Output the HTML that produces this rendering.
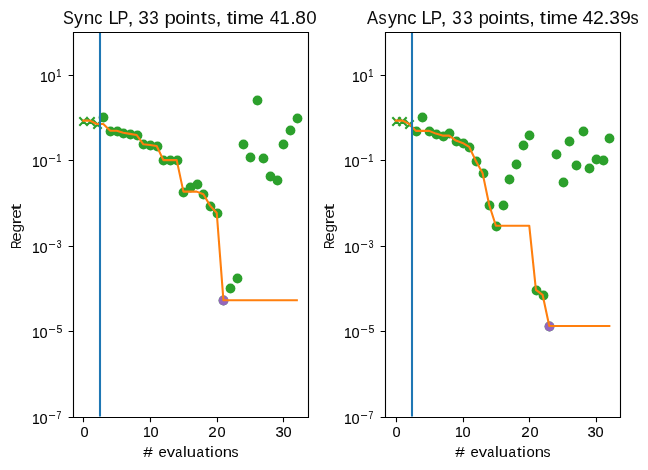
<!DOCTYPE html>
<html><head><meta charset="utf-8"><style>html,body{margin:0;padding:0;background:#fff;overflow:hidden}svg{display:block}</style></head>
<body><svg width="648" height="470" viewBox="0 0 648 470">
<rect width="648" height="470" fill="#fff"/>
<clipPath id="clipL"><rect x="72.633" y="32.333" width="234.867" height="384.389"/></clipPath>
<g clip-path="url(#clipL)">
<circle cx="103.5" cy="117.5" r="4.92" fill="#2ca02c"/>
<circle cx="110.5" cy="131.5" r="4.92" fill="#2ca02c"/>
<circle cx="117.5" cy="131.5" r="4.92" fill="#2ca02c"/>
<circle cx="123.5" cy="133.5" r="4.92" fill="#2ca02c"/>
<circle cx="130.5" cy="134.5" r="4.92" fill="#2ca02c"/>
<circle cx="137.5" cy="135.5" r="4.92" fill="#2ca02c"/>
<circle cx="143.5" cy="144.5" r="4.92" fill="#2ca02c"/>
<circle cx="150.5" cy="145.5" r="4.92" fill="#2ca02c"/>
<circle cx="157.5" cy="146.5" r="4.92" fill="#2ca02c"/>
<circle cx="163.5" cy="160.5" r="4.92" fill="#2ca02c"/>
<circle cx="170.5" cy="160.5" r="4.92" fill="#2ca02c"/>
<circle cx="177.5" cy="160.5" r="4.92" fill="#2ca02c"/>
<circle cx="183.5" cy="192.5" r="4.92" fill="#2ca02c"/>
<circle cx="190.5" cy="187.5" r="4.92" fill="#2ca02c"/>
<circle cx="197.5" cy="184.5" r="4.92" fill="#2ca02c"/>
<circle cx="203.5" cy="194.5" r="4.92" fill="#2ca02c"/>
<circle cx="210.5" cy="206.5" r="4.92" fill="#2ca02c"/>
<circle cx="217.5" cy="213.5" r="4.92" fill="#2ca02c"/>
<circle cx="223.5" cy="300.5" r="4.92" fill="#2ca02c"/>
<circle cx="230.5" cy="288.5" r="4.92" fill="#2ca02c"/>
<circle cx="237.5" cy="278.5" r="4.92" fill="#2ca02c"/>
<circle cx="243.5" cy="144.5" r="4.92" fill="#2ca02c"/>
<circle cx="250.5" cy="157.5" r="4.92" fill="#2ca02c"/>
<circle cx="257.5" cy="100.5" r="4.92" fill="#2ca02c"/>
<circle cx="263.5" cy="158.5" r="4.92" fill="#2ca02c"/>
<circle cx="270.5" cy="176.5" r="4.92" fill="#2ca02c"/>
<circle cx="277.5" cy="180.5" r="4.92" fill="#2ca02c"/>
<circle cx="283.5" cy="144.5" r="4.92" fill="#2ca02c"/>
<circle cx="290.5" cy="130.5" r="4.92" fill="#2ca02c"/>
<circle cx="297.5" cy="118.5" r="4.92" fill="#2ca02c"/>
<circle cx="223.5" cy="300.5" r="4.92" fill="#9467bd"/>
<path d="M79.333,125.667L87.667,117.333M79.333,117.333L87.667,125.667M86.333,125.667L94.667,117.333M86.333,117.333L94.667,125.667M93.333,128.667L101.667,120.333M93.333,120.333L101.667,128.667" stroke="#2ca02c" stroke-width="2.083" fill="none" stroke-linecap="butt"/>
<polyline points="83.309,120.600 89.981,120.600 96.654,124.000 103.326,124.000 109.999,130.600 116.671,130.700 123.343,132.800 130.016,133.900 136.688,135.000 143.361,144.300 150.033,145.000 156.705,146.000 163.378,160.100 170.050,160.100 176.723,160.100 183.395,191.600 190.068,191.600 196.740,191.600 203.412,194.200 210.085,205.600 216.757,213.000 223.430,300.300 230.102,300.300 236.775,300.300 243.447,300.300 250.119,300.300 256.792,300.300 263.464,300.300 270.137,300.300 276.809,300.300 283.482,300.300 290.154,300.300 296.826,300.300" stroke="#ff7f0e" stroke-width="2.083" fill="none" stroke-linejoin="round" stroke-linecap="square"/>
<rect x="98.9585" y="32.333" width="2.083" height="384.389" fill="#1f77b4"/>
</g>
<path d="M73.5,417.5V32.5H308.5V417.5Z" stroke="#000" stroke-width="1.111" fill="none" stroke-linecap="square" stroke-linejoin="miter"/>
<path d="M83.5,417.5V422.36M150.5,417.5V422.36M217.5,417.5V422.36M283.5,417.5V422.36M73.5,75.5H68.64M73.5,160.5H68.64M73.5,246.5H68.64M73.5,331.5H68.64M73.5,417.5H68.64" stroke="#000" stroke-width="1.111" fill="none"/>
<g font-family="Liberation Sans, sans-serif" fill="#000" style="filter:grayscale(1)">
<text transform="translate(63.047,23.979) scale(0.8500,1)" font-size="19.149" fill="#0a0a0a">S</text>
<text transform="translate(74.000,23.979) scale(0.9400,1)" font-size="19.149" fill="#0a0a0a">y</text>
<text transform="translate(83.667,23.979) scale(0.9947,1)" font-size="19.149" fill="#0a0a0a">n</text>
<text transform="translate(94.349,23.979) scale(0.8501,1)" font-size="19.149" fill="#0a0a0a">c</text>
<text transform="translate(108.545,23.979) scale(0.9495,1)" font-size="19.149" fill="#0a0a0a">L</text>
<text transform="translate(117.385,23.979) scale(0.8500,1)" font-size="19.149" fill="#0a0a0a">P</text>
<text transform="translate(127.417,23.979) scale(1.1500,1)" font-size="19.149" fill="#0a0a0a">,</text>
<text transform="translate(138.234,23.979) scale(1.0000,1)" font-size="19.149" fill="#0a0a0a">3</text>
<text transform="translate(149.319,23.979) scale(0.8889,1)" font-size="19.149" fill="#0a0a0a">3</text>
<text transform="translate(164.568,23.979) scale(1.0682,1)" font-size="19.149" fill="#0a0a0a">p</text>
<text transform="translate(175.234,23.979) scale(1.0000,1)" font-size="19.149" fill="#0a0a0a">o</text>
<text transform="translate(185.578,23.979) scale(1.1500,1)" font-size="19.149" fill="#0a0a0a">i</text>
<text transform="translate(189.667,23.979) scale(0.9947,1)" font-size="19.149" fill="#0a0a0a">n</text>
<text transform="translate(200.807,23.979) scale(1.1500,1)" font-size="19.149" fill="#0a0a0a">t</text>
<text transform="translate(207.512,23.979) scale(0.8501,1)" font-size="19.149" fill="#0a0a0a">s</text>
<text transform="translate(215.417,23.979) scale(1.1500,1)" font-size="19.149" fill="#0a0a0a">,</text>
<text transform="translate(226.807,23.979) scale(1.1500,1)" font-size="19.149" fill="#0a0a0a">t</text>
<text transform="translate(232.578,23.979) scale(1.1500,1)" font-size="19.149" fill="#0a0a0a">i</text>
<text transform="translate(237.600,23.979) scale(1.0444,1)" font-size="19.149" fill="#0a0a0a">m</text>
<text transform="translate(253.234,23.979) scale(1.0000,1)" font-size="19.149" fill="#0a0a0a">e</text>
<text transform="translate(269.647,23.979) scale(0.9216,1)" font-size="19.149" fill="#0a0a0a">4</text>
<text transform="translate(279.512,23.979) scale(0.9716,1)" font-size="19.149" fill="#0a0a0a">1</text>
<text transform="translate(290.200,23.979) scale(1.0444,1)" font-size="19.149" fill="#0a0a0a">.</text>
<text transform="translate(295.234,23.979) scale(1.0000,1)" font-size="19.149" fill="#0a0a0a">8</text>
<text transform="translate(306.250,23.979) scale(0.9792,1)" font-size="19.149" fill="#0a0a0a">0</text>
<text transform="translate(143.299,456.851) scale(1.1500,1)" font-size="14.865">#</text>
<text transform="translate(158.404,456.851) scale(1.0019,1)" font-size="14.865">e</text>
<text transform="translate(166.833,456.851) scale(1.1212,1)" font-size="14.865">v</text>
<text transform="translate(175.209,456.851) scale(0.8500,1)" font-size="14.865">a</text>
<text transform="translate(183.034,456.851) scale(1.1500,1)" font-size="14.865">l</text>
<text transform="translate(186.833,456.851) scale(1.1212,1)" font-size="14.865">u</text>
<text transform="translate(196.462,456.851) scale(0.9056,1)" font-size="14.865">a</text>
<text transform="translate(205.021,456.851) scale(1.1500,1)" font-size="14.865">t</text>
<text transform="translate(210.120,456.851) scale(1.1500,1)" font-size="14.865">i</text>
<text transform="translate(214.404,456.851) scale(1.0019,1)" font-size="14.865">o</text>
<text transform="translate(222.833,456.851) scale(1.1212,1)" font-size="14.865">n</text>
<text transform="translate(231.581,456.851) scale(0.9387,1)" font-size="14.865">s</text>
<text transform="translate(20.967,248.949) rotate(-90) scale(0.8214,1)" font-size="14.444" fill="#111">R</text>
<text transform="translate(20.967,241.681) rotate(-90) scale(1.1784,1)" font-size="14.444" fill="#111">e</text>
<text transform="translate(20.967,232.622) rotate(-90) scale(1.0769,1)" font-size="14.444" fill="#111">g</text>
<text transform="translate(20.967,224.400) rotate(-90) scale(1.3846,1)" font-size="14.444" fill="#111">r</text>
<text transform="translate(20.967,218.681) rotate(-90) scale(1.1784,1)" font-size="14.444" fill="#111">e</text>
<text transform="translate(20.967,210.480) rotate(-90) scale(1.6615,1)" font-size="14.444" fill="#111">t</text>
<text transform="translate(80.417,436.859) scale(1.0354,1)" font-size="14.085" stroke="#000" stroke-width="0.1">0</text>
<text transform="translate(142.884,436.859) scale(0.9907,1)" font-size="14.085" stroke="#000" stroke-width="0.1">1</text>
<text transform="translate(150.417,436.859) scale(1.0354,1)" font-size="14.085" stroke="#000" stroke-width="0.1">0</text>
<text transform="translate(208.239,436.859) scale(1.0804,1)" font-size="14.085" stroke="#000" stroke-width="0.1">2</text>
<text transform="translate(217.417,436.859) scale(1.0354,1)" font-size="14.085" stroke="#000" stroke-width="0.1">0</text>
<text transform="translate(275.404,436.859) scale(1.0574,1)" font-size="14.085" stroke="#000" stroke-width="0.1">3</text>
<text transform="translate(283.417,436.859) scale(1.0354,1)" font-size="14.085" stroke="#000" stroke-width="0.1">0</text>
<text transform="translate(39.884,81.859) scale(0.9907,1)" font-size="14.085" stroke="#000" stroke-width="0.1">1</text>
<text transform="translate(47.417,81.859) scale(1.0354,1)" font-size="14.085" stroke="#000" stroke-width="0.1">0</text>
<text transform="translate(56.256,77.000) scale(0.8023,1)" font-size="11.594" stroke="#000" stroke-width="0.1">1</text>
<text transform="translate(31.884,166.859) scale(0.9907,1)" font-size="14.085" stroke="#000" stroke-width="0.1">1</text>
<text transform="translate(39.417,166.859) scale(1.0354,1)" font-size="14.085" stroke="#000" stroke-width="0.1">0</text>
<rect x="49" y="158.08" width="6.1" height="0.84"/>
<text transform="translate(56.256,162.000) scale(0.8023,1)" font-size="11.594" stroke="#000" stroke-width="0.1">1</text>
<text transform="translate(31.884,252.859) scale(0.9907,1)" font-size="14.085" stroke="#000" stroke-width="0.1">1</text>
<text transform="translate(39.417,252.859) scale(1.0354,1)" font-size="14.085" stroke="#000" stroke-width="0.1">0</text>
<rect x="49" y="244.08" width="6.1" height="0.84"/>
<text transform="translate(56.660,247.887) scale(0.7553,1)" font-size="11.268" stroke="#000" stroke-width="0.1">3</text>
<text transform="translate(31.884,337.859) scale(0.9907,1)" font-size="14.085" stroke="#000" stroke-width="0.1">1</text>
<text transform="translate(39.417,337.859) scale(1.0354,1)" font-size="14.085" stroke="#000" stroke-width="0.1">0</text>
<rect x="49" y="329.08" width="6.1" height="0.84"/>
<text transform="translate(56.574,332.886) scale(0.9309,1)" font-size="11.429" stroke="#000" stroke-width="0.1">5</text>
<text transform="translate(31.884,423.859) scale(0.9907,1)" font-size="14.085" stroke="#000" stroke-width="0.1">1</text>
<text transform="translate(39.417,423.859) scale(1.0354,1)" font-size="14.085" stroke="#000" stroke-width="0.1">0</text>
<rect x="49" y="415.08" width="6.1" height="0.84"/>
<text transform="translate(56.565,419.118) scale(0.7391,1)" font-size="11.765" stroke="#000" stroke-width="0.1">7</text>
</g>
<clipPath id="clipR"><rect x="385.133" y="32.333" width="234.867" height="384.389"/></clipPath>
<g clip-path="url(#clipR)">
<circle cx="416.5" cy="131.5" r="4.92" fill="#2ca02c"/>
<circle cx="422.5" cy="117.5" r="4.92" fill="#2ca02c"/>
<circle cx="429.5" cy="131.5" r="4.92" fill="#2ca02c"/>
<circle cx="436.5" cy="134.5" r="4.92" fill="#2ca02c"/>
<circle cx="443.5" cy="136.5" r="4.92" fill="#2ca02c"/>
<circle cx="449.5" cy="133.5" r="4.92" fill="#2ca02c"/>
<circle cx="456.5" cy="141.5" r="4.92" fill="#2ca02c"/>
<circle cx="463.5" cy="143.5" r="4.92" fill="#2ca02c"/>
<circle cx="469.5" cy="147.5" r="4.92" fill="#2ca02c"/>
<circle cx="476.5" cy="161.5" r="4.92" fill="#2ca02c"/>
<circle cx="483.5" cy="173.5" r="4.92" fill="#2ca02c"/>
<circle cx="489.5" cy="205.5" r="4.92" fill="#2ca02c"/>
<circle cx="496.5" cy="226.5" r="4.92" fill="#2ca02c"/>
<circle cx="503.5" cy="205.5" r="4.92" fill="#2ca02c"/>
<circle cx="509.5" cy="179.5" r="4.92" fill="#2ca02c"/>
<circle cx="516.5" cy="164.5" r="4.92" fill="#2ca02c"/>
<circle cx="523.5" cy="145.5" r="4.92" fill="#2ca02c"/>
<circle cx="529.5" cy="135.5" r="4.92" fill="#2ca02c"/>
<circle cx="536.5" cy="290.5" r="4.92" fill="#2ca02c"/>
<circle cx="543.5" cy="295.5" r="4.92" fill="#2ca02c"/>
<circle cx="549.5" cy="326.5" r="4.92" fill="#2ca02c"/>
<circle cx="556.5" cy="154.5" r="4.92" fill="#2ca02c"/>
<circle cx="563.5" cy="182.5" r="4.92" fill="#2ca02c"/>
<circle cx="569.5" cy="141.5" r="4.92" fill="#2ca02c"/>
<circle cx="576.5" cy="165.5" r="4.92" fill="#2ca02c"/>
<circle cx="583.5" cy="131.5" r="4.92" fill="#2ca02c"/>
<circle cx="589.5" cy="168.5" r="4.92" fill="#2ca02c"/>
<circle cx="596.5" cy="159.5" r="4.92" fill="#2ca02c"/>
<circle cx="603.5" cy="160.5" r="4.92" fill="#2ca02c"/>
<circle cx="609.5" cy="138.5" r="4.92" fill="#2ca02c"/>
<circle cx="549.5" cy="326.5" r="4.92" fill="#9467bd"/>
<path d="M392.333,125.667L400.667,117.333M392.333,117.333L400.667,125.667M398.333,125.667L406.667,117.333M398.333,117.333L406.667,125.667M405.333,128.667L413.667,120.333M405.333,120.333L413.667,128.667" stroke="#2ca02c" stroke-width="2.083" fill="none" stroke-linecap="butt"/>
<polyline points="395.809,120.600 402.481,120.600 409.154,123.900 415.826,130.900 422.499,130.900 429.171,130.900 435.843,133.600 442.516,135.600 449.188,135.600 455.861,140.600 462.533,142.900 469.205,146.900 475.878,161.000 482.550,172.900 489.223,205.000 495.895,225.700 502.568,225.700 509.240,225.700 515.912,225.700 522.585,225.700 529.257,225.700 535.930,289.800 542.602,294.800 549.275,326.000 555.947,326.000 562.619,326.000 569.292,326.000 575.964,326.000 582.637,326.000 589.309,326.000 595.982,326.000 602.654,326.000 609.326,326.000" stroke="#ff7f0e" stroke-width="2.083" fill="none" stroke-linejoin="round" stroke-linecap="square"/>
<rect x="410.9585" y="32.333" width="2.083" height="384.389" fill="#1f77b4"/>
</g>
<path d="M385.5,417.5V32.5H620.5V417.5Z" stroke="#000" stroke-width="1.111" fill="none" stroke-linecap="square" stroke-linejoin="miter"/>
<path d="M396.5,417.5V422.36M463.5,417.5V422.36M529.5,417.5V422.36M596.5,417.5V422.36M385.5,75.5H380.64M385.5,160.5H380.64M385.5,246.5H380.64M385.5,331.5H380.64M385.5,417.5H380.64" stroke="#000" stroke-width="1.111" fill="none"/>
<g font-family="Liberation Sans, sans-serif" fill="#000" style="filter:grayscale(1)">
<text transform="translate(367.000,23.979) scale(0.8704,1)" font-size="19.149" fill="#0a0a0a">A</text>
<text transform="translate(378.512,23.979) scale(0.8501,1)" font-size="19.149" fill="#0a0a0a">s</text>
<text transform="translate(388.000,23.979) scale(0.9400,1)" font-size="19.149" fill="#0a0a0a">y</text>
<text transform="translate(396.667,23.979) scale(0.9947,1)" font-size="19.149" fill="#0a0a0a">n</text>
<text transform="translate(407.256,23.979) scale(0.9716,1)" font-size="19.149" fill="#0a0a0a">c</text>
<text transform="translate(421.545,23.979) scale(0.9495,1)" font-size="19.149" fill="#0a0a0a">L</text>
<text transform="translate(430.642,23.979) scale(0.8868,1)" font-size="19.149" fill="#0a0a0a">P</text>
<text transform="translate(440.417,23.979) scale(1.1500,1)" font-size="19.149" fill="#0a0a0a">,</text>
<text transform="translate(452.319,23.979) scale(0.8889,1)" font-size="19.149" fill="#0a0a0a">3</text>
<text transform="translate(463.319,23.979) scale(0.8889,1)" font-size="19.149" fill="#0a0a0a">3</text>
<text transform="translate(478.727,23.979) scale(0.9495,1)" font-size="19.149" fill="#0a0a0a">p</text>
<text transform="translate(488.234,23.979) scale(1.0000,1)" font-size="19.149" fill="#0a0a0a">o</text>
<text transform="translate(498.578,23.979) scale(1.1500,1)" font-size="19.149" fill="#0a0a0a">i</text>
<text transform="translate(503.667,23.979) scale(0.9947,1)" font-size="19.149" fill="#0a0a0a">n</text>
<text transform="translate(513.583,23.979) scale(1.0880,1)" font-size="19.149" fill="#0a0a0a">ts</text>
<text transform="translate(529.200,23.979) scale(1.0444,1)" font-size="19.149" fill="#0a0a0a">,</text>
<text transform="translate(539.807,23.979) scale(1.1500,1)" font-size="19.149" fill="#0a0a0a">t</text>
<text transform="translate(546.578,23.979) scale(1.1500,1)" font-size="19.149" fill="#0a0a0a">i</text>
<text transform="translate(550.600,23.979) scale(1.0444,1)" font-size="19.149" fill="#0a0a0a">m</text>
<text transform="translate(567.234,23.979) scale(1.0000,1)" font-size="19.149" fill="#0a0a0a">e</text>
<text transform="translate(582.608,23.979) scale(1.0240,1)" font-size="19.149" fill="#0a0a0a">4</text>
<text transform="translate(593.022,23.979) scale(1.0217,1)" font-size="19.149" fill="#0a0a0a">2</text>
<text transform="translate(603.417,23.979) scale(1.1500,1)" font-size="19.149" fill="#0a0a0a">.</text>
<text transform="translate(609.234,23.979) scale(1.0000,1)" font-size="19.149" fill="#0a0a0a">3</text>
<text transform="translate(620.022,23.979) scale(1.0217,1)" font-size="19.149" fill="#0a0a0a">9</text>
<text transform="translate(630.512,23.979) scale(0.8501,1)" font-size="19.149" fill="#0a0a0a">s</text>
<text transform="translate(455.299,456.851) scale(1.1500,1)" font-size="14.865">#</text>
<text transform="translate(470.404,456.851) scale(1.0019,1)" font-size="14.865">e</text>
<text transform="translate(478.833,456.851) scale(1.1212,1)" font-size="14.865">v</text>
<text transform="translate(487.209,456.851) scale(0.8500,1)" font-size="14.865">a</text>
<text transform="translate(495.034,456.851) scale(1.1500,1)" font-size="14.865">l</text>
<text transform="translate(498.833,456.851) scale(1.1212,1)" font-size="14.865">u</text>
<text transform="translate(508.462,456.851) scale(0.9056,1)" font-size="14.865">a</text>
<text transform="translate(517.021,456.851) scale(1.1500,1)" font-size="14.865">t</text>
<text transform="translate(522.120,456.851) scale(1.1500,1)" font-size="14.865">i</text>
<text transform="translate(526.404,456.851) scale(1.0019,1)" font-size="14.865">o</text>
<text transform="translate(534.833,456.851) scale(1.1212,1)" font-size="14.865">n</text>
<text transform="translate(543.581,456.851) scale(0.9387,1)" font-size="14.865">s</text>
<text transform="translate(333.967,248.949) rotate(-90) scale(0.8214,1)" font-size="14.444" fill="#111">R</text>
<text transform="translate(333.967,241.681) rotate(-90) scale(1.1784,1)" font-size="14.444" fill="#111">e</text>
<text transform="translate(333.967,232.622) rotate(-90) scale(1.0769,1)" font-size="14.444" fill="#111">g</text>
<text transform="translate(333.967,224.400) rotate(-90) scale(1.3846,1)" font-size="14.444" fill="#111">r</text>
<text transform="translate(333.967,218.681) rotate(-90) scale(1.1784,1)" font-size="14.444" fill="#111">e</text>
<text transform="translate(333.967,210.480) rotate(-90) scale(1.6615,1)" font-size="14.444" fill="#111">t</text>
<text transform="translate(392.417,436.859) scale(1.0354,1)" font-size="14.085" stroke="#000" stroke-width="0.1">0</text>
<text transform="translate(454.884,436.859) scale(0.9907,1)" font-size="14.085" stroke="#000" stroke-width="0.1">1</text>
<text transform="translate(462.417,436.859) scale(1.0354,1)" font-size="14.085" stroke="#000" stroke-width="0.1">0</text>
<text transform="translate(521.239,436.859) scale(1.0804,1)" font-size="14.085" stroke="#000" stroke-width="0.1">2</text>
<text transform="translate(530.417,436.859) scale(1.0354,1)" font-size="14.085" stroke="#000" stroke-width="0.1">0</text>
<text transform="translate(587.404,436.859) scale(1.0574,1)" font-size="14.085" stroke="#000" stroke-width="0.1">3</text>
<text transform="translate(595.417,436.859) scale(1.0354,1)" font-size="14.085" stroke="#000" stroke-width="0.1">0</text>
<text transform="translate(351.884,81.859) scale(0.9907,1)" font-size="14.085" stroke="#000" stroke-width="0.1">1</text>
<text transform="translate(359.417,81.859) scale(1.0354,1)" font-size="14.085" stroke="#000" stroke-width="0.1">0</text>
<text transform="translate(368.256,77.000) scale(0.8023,1)" font-size="11.594" stroke="#000" stroke-width="0.1">1</text>
<text transform="translate(343.884,166.859) scale(0.9907,1)" font-size="14.085" stroke="#000" stroke-width="0.1">1</text>
<text transform="translate(351.417,166.859) scale(1.0354,1)" font-size="14.085" stroke="#000" stroke-width="0.1">0</text>
<rect x="361" y="158.08" width="6.1" height="0.84"/>
<text transform="translate(368.256,162.000) scale(0.8023,1)" font-size="11.594" stroke="#000" stroke-width="0.1">1</text>
<text transform="translate(343.884,252.859) scale(0.9907,1)" font-size="14.085" stroke="#000" stroke-width="0.1">1</text>
<text transform="translate(351.417,252.859) scale(1.0354,1)" font-size="14.085" stroke="#000" stroke-width="0.1">0</text>
<rect x="361" y="244.08" width="6.1" height="0.84"/>
<text transform="translate(368.660,247.887) scale(0.7553,1)" font-size="11.268" stroke="#000" stroke-width="0.1">3</text>
<text transform="translate(343.884,337.859) scale(0.9907,1)" font-size="14.085" stroke="#000" stroke-width="0.1">1</text>
<text transform="translate(351.417,337.859) scale(1.0354,1)" font-size="14.085" stroke="#000" stroke-width="0.1">0</text>
<rect x="361" y="329.08" width="6.1" height="0.84"/>
<text transform="translate(368.574,332.886) scale(0.9309,1)" font-size="11.429" stroke="#000" stroke-width="0.1">5</text>
<text transform="translate(343.884,423.859) scale(0.9907,1)" font-size="14.085" stroke="#000" stroke-width="0.1">1</text>
<text transform="translate(351.417,423.859) scale(1.0354,1)" font-size="14.085" stroke="#000" stroke-width="0.1">0</text>
<rect x="361" y="415.08" width="6.1" height="0.84"/>
<text transform="translate(368.565,419.118) scale(0.7391,1)" font-size="11.765" stroke="#000" stroke-width="0.1">7</text>
</g>
</svg></body></html>
